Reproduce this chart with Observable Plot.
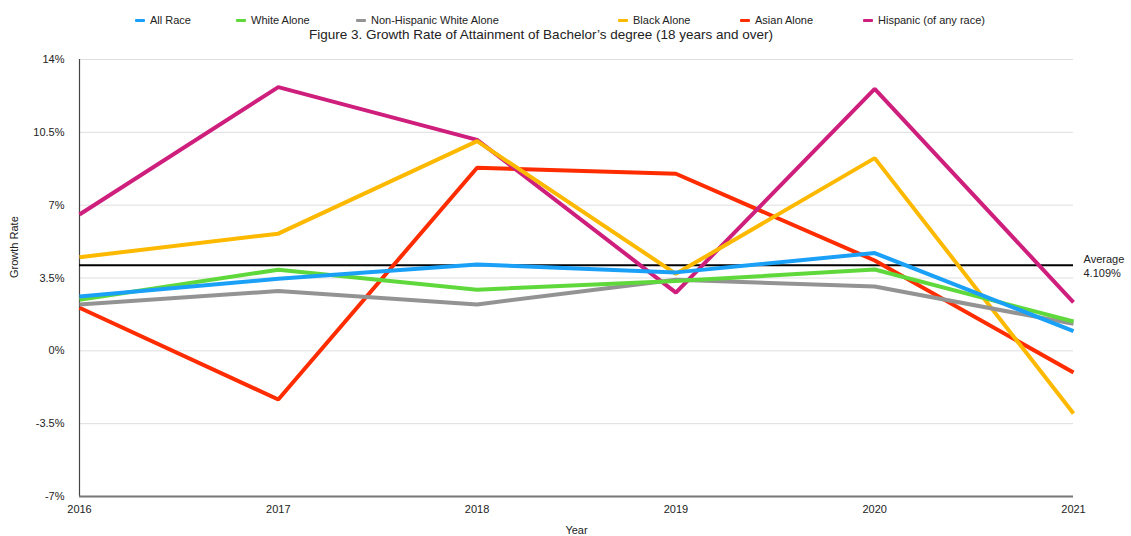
<!DOCTYPE html>
<html>
<head>
<meta charset="utf-8">
<script src="https://cdn.jsdelivr.net/npm/d3@7"></script>
<script src="https://cdn.jsdelivr.net/npm/@observablehq/plot@0.6"></script>
<style>
  html, body { margin: 0; padding: 0; background: #fff; }
  body { width: 1131px; height: 536px; overflow: hidden; font-family: "Liberation Sans", Arial, Helvetica, sans-serif; color: #222; }
  #head { position: relative; height: 45px; width: 1131px; }
  .item { position: absolute; top: 13px; font-size: 11px; line-height: 14px; white-space: nowrap; }
  .sw { position: absolute; top: 19px; width: 10px; height: 3px; border-radius: 1px; }
  #title { position: absolute; top: 27px; left: 0; width: 1082px; text-align: center; font-size: 13.5px; line-height: 16px; white-space: nowrap; }
  #chart svg { display: block; }
</style>
</head>
<body>
<div id="head"></div>
<div id="chart"></div>
<script>
const years = [2016, 2017, 2018, 2019, 2020, 2021];
const seriesNames = ["All Race", "White Alone", "Non-Hispanic White Alone", "Black Alone", "Asian Alone", "Hispanic (of any race)"];
const seriesColors = ["#1AA1F7", "#5FD83B", "#939393", "#FCB900", "#FF2C00", "#CF1F7D"];
const allRace     = [2.61, 3.46, 4.15, 3.77, 4.70, 0.95];
const whiteAlone  = [2.45, 3.90, 2.94, 3.35, 3.91, 1.41];
const nonHispWhite= [2.23, 2.87, 2.23, 3.42, 3.09, 1.30];
const blackAlone  = [4.50, 5.63, 10.08, 3.70, 9.26, -3.01];
const asianAlone  = [2.07, -2.34, 8.80, 8.51, 4.34, -1.04];
const hispanic    = [6.55, 12.67, 10.14, 2.80, 12.59, 2.33];
const average = 4.109;
const yTicks = [-7, -3.5, 0, 3.5, 7, 10.5, 14];
const legendX = [135, 236, 356, 618, 740, 863];
const drawOrder = ["Asian Alone", "Hispanic (of any race)", "Black Alone", "Non-Hispanic White Alone", "White Alone", "All Race"];
const titleText = "Figure 3. Growth Rate of Attainment of Bachelor\u2019s degree (18 years and over)";

const seriesValues = [allRace, whiteAlone, nonHispWhite, blackAlone, asianAlone, hispanic];
const data = drawOrder.flatMap(name => {
  const i = seriesNames.indexOf(name);
  return years.map((year, j) => ({series: name, year, value: seriesValues[i][j]}));
});

// Legend + title (HTML above the SVG)
const head = document.getElementById("head");
seriesNames.forEach((name, i) => {
  const sw = document.createElement("div");
  sw.className = "sw";
  sw.style.left = legendX[i] + "px";
  sw.style.background = seriesColors[i];
  head.appendChild(sw);
  const lab = document.createElement("div");
  lab.className = "item";
  lab.style.left = (legendX[i] + 15) + "px";
  lab.textContent = name;
  head.appendChild(lab);
});
const t = document.createElement("div");
t.id = "title";
t.textContent = titleText;
head.appendChild(t);

const pct = d => d + "%";

const chart = Plot.plot({
  width: 1131,
  height: 491,
  marginLeft: 79,
  marginRight: 58,
  marginTop: 14,
  marginBottom: 40,
  style: {fontFamily: "'Liberation Sans', Arial, Helvetica, sans-serif", fontSize: "11px", color: "#222", background: "white"},
  x: {domain: [2016, 2021]},
  y: {domain: [-7, 14]},
  color: {domain: seriesNames, range: seriesColors},
  marks: [
    Plot.gridY(yTicks, {stroke: "#dedede", strokeOpacity: 1, strokeWidth: 1}),
    Plot.axisY(yTicks, {tickSize: 0, tickPadding: 15, tickFormat: pct, label: null}),
    Plot.axisX(years, {tickSize: 0, tickPadding: 9, tickFormat: d => String(d), label: null}),
    Plot.ruleX([2016], {stroke: "#444", strokeWidth: 1.2}),
    Plot.ruleY([-7], {stroke: "#777", strokeWidth: 2}),
    Plot.ruleY([average], {stroke: "#000", strokeWidth: 2}),
    Plot.lineY(data, {x: "year", y: "value", z: "series", stroke: "series", strokeWidth: 4, strokeLinejoin: "miter", strokeLinecap: "butt"}),
    Plot.text([{x: 2021, y: average}], {x: "x", y: "y", text: () => "Average\n" + average + "%", textAnchor: "start", dx: 10, lineHeight: 1.25, fill: "#222"}),
    Plot.text(["Year"], {frameAnchor: "bottom", dy: 37, fill: "#222"}),
    Plot.text(["Growth Rate"], {frameAnchor: "left", dx: -65, rotate: -90, fill: "#222"})
  ]
});
document.getElementById("chart").appendChild(chart);
</script>
</body>
</html>
